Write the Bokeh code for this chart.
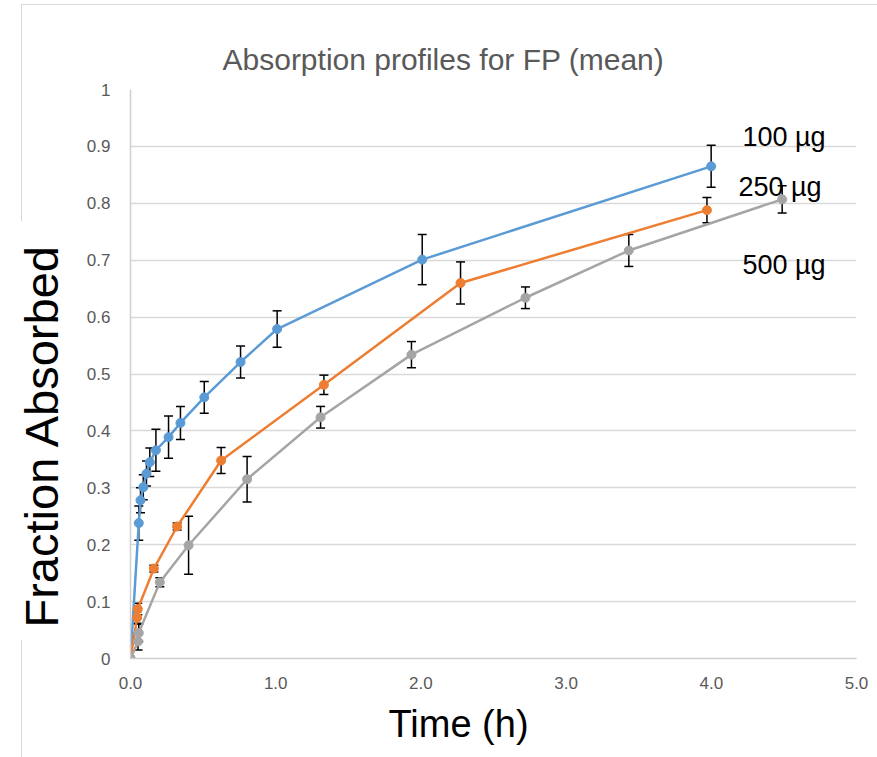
from bokeh.plotting import figure
from bokeh.models import Range1d, FixedTicker, Title, InlineStyleSheet
from bokeh.core.properties import value
from bokeh.embed import file_html
from bokeh.resources import INLINE

# ---- data ----
t100 = [0, 0.057, 0.069, 0.088, 0.110, 0.133, 0.175, 0.262, 0.344, 0.508, 0.758, 1.01, 2.009, 3.999]
v100 = [0, 0.238, 0.278, 0.301, 0.325, 0.345, 0.366, 0.389, 0.414, 0.459, 0.521, 0.579, 0.701, 0.865]
e100 = [0, 0.030, 0.022, 0.022, 0.022, 0.025, 0.037, 0.037, 0.029, 0.028, 0.028, 0.032, 0.044, 0.037]

t250 = [0, 0.046, 0.050, 0.161, 0.321, 0.624, 1.332, 2.273, 3.97]
v250 = [0, 0.072, 0.087, 0.158, 0.232, 0.348, 0.481, 0.660, 0.788]
e250 = [0, 0.010, 0.010, 0.006, 0.006, 0.023, 0.017, 0.037, 0.022]

t500 = [0, 0.052, 0.057, 0.202, 0.400, 0.803, 1.309, 1.935, 2.72, 3.432, 4.488]
v500 = [0, 0.030, 0.045, 0.134, 0.199, 0.315, 0.424, 0.534, 0.634, 0.717, 0.807]
e500 = [0, 0.015, 0.015, 0.008, 0.051, 0.040, 0.019, 0.023, 0.019, 0.028, 0.024]

series_names = ["100 µg", "250 µg", "500 µg"]
x_ticks = [0, 1, 2, 3, 4, 5]
x_tick_labels = ["0.0", "1.0", "2.0", "3.0", "4.0", "5.0"]
y_ticks = [0, 0.1, 0.2, 0.3, 0.4, 0.5, 0.6, 0.7, 0.8, 0.9, 1.0]
y_tick_labels = ["0", "0.1", "0.2", "0.3", "0.4", "0.5", "0.6", "0.7", "0.8", "0.9", "1"]

title_text = "Absorption profiles for FP (mean)"
x_label = "Time (h)"
y_label = "Fraction Absorbed"

colors = ["#5B9BD5", "#ED7D31", "#A5A5A5"]
FONT = "Liberation Sans"

frame_css = InlineStyleSheet(css="""
:host { position: relative; }
:host::before { content: ''; position: absolute; left: 21px; top: 4px; width: 856px; height: 216px;
  border-top: 1px solid #d9d9d9; border-left: 1px solid #d9d9d9; pointer-events: none; z-index: 5; }
:host::after { content: ''; position: absolute; left: 21px; top: 640px; width: 1px; height: 117px;
  border-left: 1px solid #d9d9d9; pointer-events: none; z-index: 5; }
""")

p = figure(width=877, height=757, output_backend="svg", toolbar_location=None,
           x_range=Range1d(0, 5), y_range=Range1d(0, 1),
           min_border_left=130, min_border_right=21, min_border_top=89, min_border_bottom=99)
p.stylesheets = [frame_css]
p.outline_line_color = None
p.background_fill_color = "white"
p.border_fill_color = "white"

# title
p.title.text = title_text
p.title.align = "left"
p.title.offset = 92
p.title.standoff = 28
p.title.text_font = FONT
p.title.text_font_size = "30px"
p.title.text_font_style = "normal"
p.title.text_color = "#595959"

# axes
p.xaxis.ticker = FixedTicker(ticks=x_ticks)
p.xaxis.major_label_overrides = {t: l for t, l in zip(x_ticks, x_tick_labels)}
p.yaxis.ticker = FixedTicker(ticks=y_ticks)
p.yaxis.major_label_overrides = {t: l for t, l in zip(y_ticks, y_tick_labels)}
for ax in (p.xaxis, p.yaxis):
    ax.major_tick_line_color = None
    ax.minor_tick_line_color = None
    ax.major_tick_out = 0
    ax.axis_line_color = "#d0d0d0"
    ax.axis_line_width = 1.5
    ax.major_label_text_font = FONT
    ax.major_label_text_font_size = "17px"
    ax.major_label_text_color = "#595959"
p.yaxis.major_label_standoff = 20
p.xaxis.major_label_standoff = 18

p.xgrid.grid_line_color = None
p.ygrid.ticker = FixedTicker(ticks=y_ticks)
p.ygrid.grid_line_color = "#d9d9d9"
p.ygrid.grid_line_width = 1.5

# axis titles
p.add_layout(Title(text=x_label, align="left", offset=258, standoff=22, vertical_align="top",
                   text_font=FONT, text_font_size="38px", text_font_style="normal",
                   text_color="black", text_line_height=1.0), "below")
p.add_layout(Title(text=y_label, align="left", offset=31, standoff=28, vertical_align="top",
                   text_font=FONT, text_font_size="47px", text_font_style="normal",
                   text_color="black", text_line_height=1.0, background_fill_color="white"), "left")

# error bars
for t, v, e in [(t100, v100, e100), (t250, v250, e250), (t500, v500, e500)]:
    tt = [a for a, b in zip(t, e) if b > 0]
    lo = [a - b for a, b in zip(v, e) if b > 0]
    hi = [a + b for a, b in zip(v, e) if b > 0]
    p.segment(x0=tt, x1=tt, y0=lo, y1=hi, line_color="black", line_width=1.5)
    p.scatter(tt, lo, marker="dash", size=9, line_color="black", line_width=1.5)
    p.scatter(tt, hi, marker="dash", size=9, line_color="black", line_width=1.5)

# series
for t, v, c in [(t100, v100, colors[0]), (t250, v250, colors[1]), (t500, v500, colors[2])]:
    p.line(t, v, line_color=c, line_width=2.5)
    p.scatter(t, v, marker="circle", size=9, fill_color=c, line_color=c)

# series labels
p.text(x=[4.215, 4.187, 4.215], y=[0.916, 0.828, 0.692], text=series_names,
       text_font=value(FONT), text_font_size="27px", text_color="black",
       text_baseline="alphabetic", text_align="left")

open("out.html", "w").write(file_html(p, INLINE))
